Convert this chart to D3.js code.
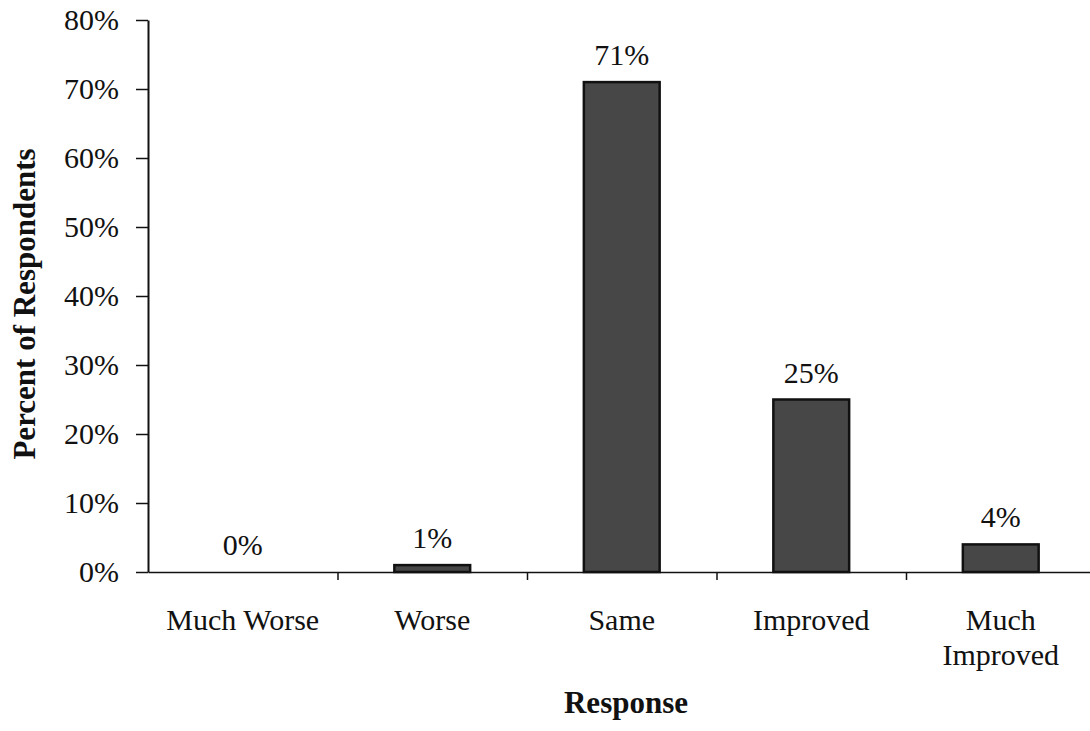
<!DOCTYPE html>
<html>
<head>
<meta charset="utf-8">
<script src="https://cdn.jsdelivr.net/npm/d3@7"></script>
<style>
  html, body { margin: 0; padding: 0; background: #fff; }
  svg { display: block; }
  text { font-family: "Liberation Serif", "Times New Roman", serif; fill: #111; }
</style>
</head>
<body>
<svg id="chart" width="1090" height="731"></svg>
<script>
const categories = [["Much Worse"], ["Worse"], ["Same"], ["Improved"], ["Much", "Improved"]];
const values = [0, 1, 71, 25, 4];
const valueLabels = ["0%", "1%", "71%", "25%", "4%"];
const yTicks = [0, 10, 20, 30, 40, 50, 60, 70, 80];
const yTickLabels = ["0%", "10%", "20%", "30%", "40%", "50%", "60%", "70%", "80%"];
const xTitle = "Response";
const yTitle = "Percent of Respondents";

const svg = d3.select("#chart");
const mLeft = 148, mRight = 1095.5, mTop = 20, mBottom = 572;

const x = d3.scaleBand().domain(d3.range(categories.length)).range([mLeft, mRight]).padding(0);
const y = d3.scaleLinear().domain([0, 80]).range([mBottom, mTop]);
const barW = x.bandwidth() * 0.4;

// bars
svg.append("g").selectAll("rect").data(values).join("rect")
  .attr("x", (d, i) => x(i) + x.bandwidth() / 2 - barW / 2)
  .attr("y", d => y(d))
  .attr("width", barW)
  .attr("height", d => Math.max(0, mBottom - y(d)))
  .attr("fill", d => d > 0 ? "#474747" : "none")
  .attr("stroke", d => d > 0 ? "#111" : "none")
  .attr("stroke-width", 2.5);

// y axis
const yAxis = d3.axisLeft(y).tickValues(yTicks)
  .tickFormat((d, i) => yTickLabels[i]).tickSize(12).tickPadding(17).tickSizeOuter(0);
const gy = svg.append("g").attr("transform", `translate(${mLeft},0)`).call(yAxis);
gy.select(".domain").attr("stroke", "#111").attr("stroke-width", 2);
gy.selectAll(".tick line").attr("stroke", "#111").attr("stroke-width", 1.5);
gy.selectAll(".tick text").attr("font-size", 30).attr("font-family", "Liberation Serif").attr("fill", "#111");

// x axis with ticks at band boundaries
const xb = d3.scaleLinear().domain([0, categories.length]).range([mLeft, mRight]);
const xAxis = d3.axisBottom(xb).tickValues([1, 2, 3, 4]).tickFormat("").tickSize(8).tickSizeOuter(0);
const gx = svg.append("g").attr("transform", `translate(0,${mBottom})`).call(xAxis);
gx.select(".domain").attr("stroke", "#111").attr("stroke-width", 1.5);
gx.selectAll(".tick line").attr("stroke", "#111").attr("stroke-width", 1.5);

// category labels
const cat = svg.append("g").selectAll("text").data(categories).join("text")
  .attr("text-anchor", "middle")
  .attr("font-size", 30)
  .attr("x", (d, i) => x(i) + x.bandwidth() / 2)
  .attr("y", 630);
cat.selectAll("tspan").data(d => d).join("tspan")
  .attr("x", function () { return d3.select(this.parentNode).attr("x"); })
  .attr("dy", (d, i) => i === 0 ? 0 : 35)
  .text(d => d);

// value labels
svg.append("g").selectAll("text").data(values).join("text")
  .attr("text-anchor", "middle")
  .attr("font-size", 30)
  .attr("x", (d, i) => x(i) + x.bandwidth() / 2)
  .attr("y", d => y(d) - 17)
  .text((d, i) => valueLabels[i]);

// axis titles
svg.append("text")
  .attr("text-anchor", "middle")
  .attr("font-size", 31)
  .attr("font-weight", "bold")
  .attr("x", 626).attr("y", 713)
  .text(xTitle);

svg.append("text")
  .attr("text-anchor", "middle")
  .attr("font-size", 31)
  .attr("font-weight", "bold")
  .attr("transform", "translate(35,304) rotate(-90)")
  .text(yTitle);
</script>
</body>
</html>
